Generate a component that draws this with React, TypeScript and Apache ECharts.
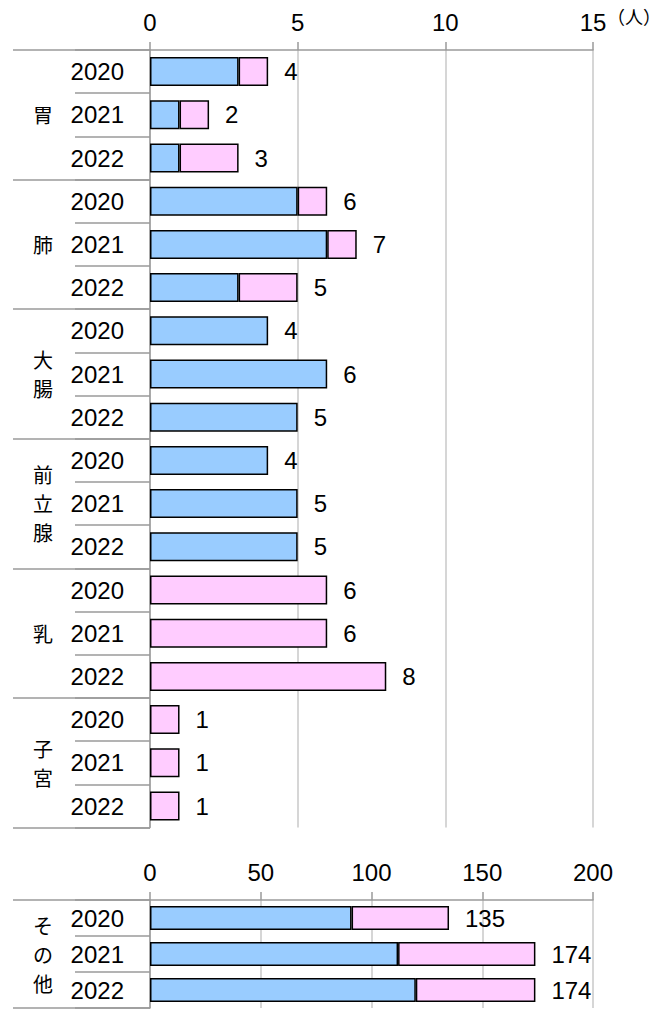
import React, { useEffect, useRef } from 'react';
import * as echarts from 'echarts';

// ---- data ----
const groups = ['胃', '肺', '大腸', '前立腺', '乳', '子宮'];
const years = ['2020', '2021', '2022'];
const maleTop = [3, 1, 1, 5, 6, 3, 4, 6, 5, 4, 5, 5, 0, 0, 0, 0, 0, 0];
const femaleTop = [1, 1, 2, 1, 1, 2, 0, 0, 0, 0, 0, 0, 6, 6, 8, 1, 1, 1];
const otherGroups = ['その他'];
const maleOther = [91, 112, 120];
const femaleOther = [44, 62, 54];
const topTickMax = 15;
const topTickStep = 5;
const bottomTickMax = 200;
const bottomTickStep = 50;
const unitLabel = '（人）';

const BLUE = '#99CCFF';
const PINK = '#FFCCFF';
const NUM_FONT = "'Liberation Sans Narrow', 'Arial Narrow', 'Liberation Sans', Arial, sans-serif";
const CJK_FONT = "'Noto Sans CJK JP', 'Noto Sans CJK SC', sans-serif";
const LINE = '#9a9a9a';
const GRID_LINE = '#c8c8c8';

const nz = (arr: number[]) => arr.map((v) => (v === 0 ? '-' : v));
const sum = (a: number[], b: number[]) => a.map((v, i) => v + b[i]);
const vertical = (s: string) => s.split('').join('\n');

function xAxisDef(gridIndex: number, max: number, step: number) {
  return {
    type: 'value',
    gridIndex,
    position: 'top',
    min: 0,
    max,
    interval: step,
    axisLine: { show: true, lineStyle: { color: LINE, width: 1.5 } },
    axisTick: { show: true, length: 8, lineStyle: { color: LINE, width: 1.5 } },
    axisLabel: { fontSize: 24, fontFamily: NUM_FONT, color: '#000', margin: 16 },
    splitLine: { show: true, lineStyle: { color: GRID_LINE, width: 1.5 } },
  };
}

function yearAxis(gridIndex: number, count: number) {
  return {
    type: 'category',
    gridIndex,
    inverse: true,
    position: 'left',
    data: Array.from({ length: count }).flatMap(() => years),
    axisLine: { show: true, lineStyle: { color: LINE, width: 1.5 } },
    axisTick: { show: true, length: 75, interval: 0, lineStyle: { color: LINE, width: 1.5 } },
    axisLabel: { fontSize: 24, fontFamily: NUM_FONT, color: '#000', margin: 26, interval: 0 },
    splitLine: { show: false },
  };
}

function groupAxis(gridIndex: number, names: string[]) {
  return {
    type: 'category',
    gridIndex,
    inverse: true,
    position: 'left',
    data: names.map(vertical),
    axisLine: { show: false },
    axisTick: { show: true, length: 137, interval: 0, lineStyle: { color: LINE, width: 1.5 } },
    axisLabel: {
      fontSize: 20,
      fontFamily: CJK_FONT,
      color: '#000',
      margin: 107,
      align: 'center',
      lineHeight: 29,
      interval: 0,
    },
    splitLine: { show: false },
  };
}

function barSeries(xi: number, yi: number, male: number[], female: number[], width: number, stack: string) {
  const border = { borderColor: '#000', borderWidth: 1.5 };
  return [
    {
      type: 'bar',
      xAxisIndex: xi,
      yAxisIndex: yi,
      stack,
      barWidth: width,
      barGap: '-100%',
      itemStyle: { color: BLUE, ...border },
      data: nz(male),
      z: 3,
    },
    {
      type: 'bar',
      xAxisIndex: xi,
      yAxisIndex: yi,
      stack,
      barWidth: width,
      barGap: '-100%',
      itemStyle: { color: PINK, ...border },
      data: nz(female),
      z: 3,
    },
    {
      type: 'bar',
      xAxisIndex: xi,
      yAxisIndex: yi,
      barWidth: width,
      barGap: '-100%',
      itemStyle: { color: 'rgba(0,0,0,0)', borderWidth: 0 },
      label: {
        show: true,
        position: 'right',
        distance: 16,
        fontSize: 24,
        fontFamily: NUM_FONT,
        color: '#000',
      },
      data: sum(male, female),
      z: 2,
    },
  ];
}

export default function App() {
  const ref = useRef<HTMLDivElement>(null);
  useEffect(() => {
    if (!ref.current) return;
    const chart = echarts.init(ref.current, undefined, { renderer: 'svg' });
    chart.setOption({
      animation: false,
      backgroundColor: '#fff',
      grid: [
        { left: 150, right: 67, top: 50, height: 777.6 },
        { left: 150, right: 67, top: 900, height: 108 },
      ],
      xAxis: [xAxisDef(0, topTickMax, topTickStep), xAxisDef(1, bottomTickMax, bottomTickStep)],
      yAxis: [
        yearAxis(0, groups.length),
        groupAxis(0, groups),
        yearAxis(1, otherGroups.length),
        groupAxis(1, otherGroups),
      ],
      graphic: [
        {
          type: 'text',
          left: 607,
          top: 7,
          style: { text: unitLabel, fontSize: 18, fontFamily: CJK_FONT, fill: '#000' },
        },
      ],
      series: [
        ...barSeries(0, 0, maleTop, femaleTop, 29, 'top'),
        ...barSeries(1, 2, maleOther, femaleOther, 24, 'bottom'),
      ],
    });
    return () => chart.dispose();
  }, []);
  return <div ref={ref} style={{ position: 'fixed', left: 0, top: 0, width: 660, height: 1009 }} />;
}
